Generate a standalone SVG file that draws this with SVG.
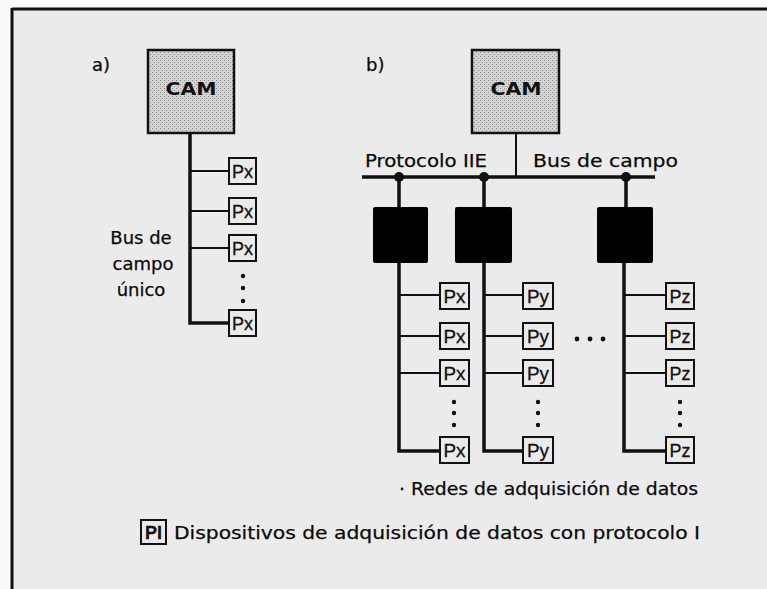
<svg xmlns="http://www.w3.org/2000/svg" width="767" height="589" viewBox="0 0 767 589">
  <defs>
    <pattern id="stipple" width="4" height="4" patternUnits="userSpaceOnUse">
      <rect width="4" height="4" fill="#d2d2d2"/>
      <rect x="0" y="0" width="1" height="1" fill="#8a8a8a"/>
      <rect x="2" y="2" width="1" height="1" fill="#9a9a9a"/>
    </pattern>
    <style>
      .lbl { font-family: "DejaVu Sans", "Liberation Sans", sans-serif; font-size: 18px; fill: #0a0a0a; stroke: #0a0a0a; stroke-width: 0.25; }
      .cam { font-family: "DejaVu Sans", "Liberation Sans", sans-serif; font-size: 17px; font-weight: bold; fill: #111; text-anchor: middle; }
      .dev { font-family: "Liberation Sans", Arial, sans-serif; font-size: 19px; fill: #111; stroke: #111; stroke-width: 0.3; text-anchor: middle; }
      .camBox { fill: url(#stipple); stroke: #111; stroke-width: 2.5; }
      .devBox { fill: #eaeaea; stroke: #111; stroke-width: 2; }
      .hub { fill: #000; }
      .wire { stroke: #111; stroke-width: 2; fill: none; }
      .trunk { stroke: #111; stroke-width: 3.5; fill: none; }
      .dot { fill: #111; }
    </style>
  </defs>

  <!-- page and frame -->
  <rect width="767" height="589" fill="#fafafa"/>
  <rect x="12" y="9" width="755" height="580" fill="#ebebeb"/>
  <line x1="12" y1="9" x2="767" y2="9" stroke="#111" stroke-width="3"/>
  <line x1="12" y1="8" x2="12" y2="589" stroke="#111" stroke-width="3"/>

  <!-- panel labels -->
  <text class="lbl" x="92" y="71">a)</text>
  <text class="lbl" x="366" y="71">b)</text>

  <!-- connectors -->
  <g id="connectors">
    <!-- a) single field bus -->
    <path class="trunk" d="M190,133 V323 H229" stroke-width="3"/>
    <path class="wire" d="M190,171 H229 M190,211 H229 M190,248 H229"/>
    <!-- b) main bus -->
    <line class="wire" x1="516" y1="133" x2="516" y2="177"/>
    <line class="trunk" x1="362" y1="177" x2="655" y2="177"/>
    <circle class="dot" cx="399" cy="177" r="5"/>
    <circle class="dot" cx="484" cy="177" r="5"/>
    <circle class="dot" cx="626" cy="177" r="5"/>
    <path class="trunk" d="M399,177 V207 M484,177 V207 M626,177 V207"/>
    <!-- b) acquisition networks -->
    <path class="trunk" d="M399,263 V451 H440"/>
    <path class="wire" d="M399,295 H440 M399,336 H440 M399,373 H440"/>
    <path class="trunk" d="M484,263 V451 H523"/>
    <path class="wire" d="M484,295 H523 M484,336 H523 M484,373 H523"/>
    <path class="trunk" d="M624,263 V451 H666"/>
    <path class="wire" d="M624,295 H666 M624,336 H666 M624,373 H666"/>
  </g>

  <!-- a) -->
  <g id="camA">
    <rect class="camBox" x="148" y="50" width="86" height="83"/>
    <text class="cam" x="191" y="95" textLength="51" lengthAdjust="spacingAndGlyphs">CAM</text>
  </g>
  <g id="devA1"><rect class="devBox" x="229" y="158" width="27" height="26"/><text class="dev" x="242.5" y="178" textLength="21" lengthAdjust="spacingAndGlyphs">Px</text></g>
  <g id="devA2"><rect class="devBox" x="229" y="198" width="27" height="26"/><text class="dev" x="242.5" y="218" textLength="21" lengthAdjust="spacingAndGlyphs">Px</text></g>
  <g id="devA3"><rect class="devBox" x="229" y="235" width="27" height="26"/><text class="dev" x="242.5" y="255" textLength="21" lengthAdjust="spacingAndGlyphs">Px</text></g>
  <g id="devA4"><rect class="devBox" x="229" y="310" width="27" height="26"/><text class="dev" x="242.5" y="330" textLength="21" lengthAdjust="spacingAndGlyphs">Px</text></g>
  <g id="ellipsisA">
    <circle class="dot" cx="243" cy="276" r="2.2"/>
    <circle class="dot" cx="243" cy="288" r="2.2"/>
    <circle class="dot" cx="243" cy="301" r="2.2"/>
  </g>
  <g id="busLabelA">
    <text class="lbl" x="141" y="244" text-anchor="middle">Bus de</text>
    <text class="lbl" x="143" y="270" text-anchor="middle">campo</text>
    <text class="lbl" x="141" y="296" text-anchor="middle">único</text>
  </g>

  <!-- b) -->
  <g id="camB">
    <rect class="camBox" x="472" y="50" width="87" height="83"/>
    <text class="cam" x="516" y="95" textLength="51" lengthAdjust="spacingAndGlyphs">CAM</text>
  </g>
  <g id="busLabelsB">
    <text class="lbl" x="365" y="167" textLength="122" lengthAdjust="spacingAndGlyphs">Protocolo IIE</text>
    <text class="lbl" x="533" y="167" textLength="145" lengthAdjust="spacingAndGlyphs">Bus de campo</text>
  </g>
  <g id="hub1"><rect class="hub" x="373" y="207" width="55" height="56" rx="2"/></g>
  <g id="hub2"><rect class="hub" x="455" y="207" width="57" height="56" rx="2"/></g>
  <g id="hub3"><rect class="hub" x="597" y="207" width="56" height="56" rx="2"/></g>

  <g id="devX1"><rect class="devBox" x="440" y="283" width="29" height="26"/><text class="dev" x="454.5" y="303" textLength="22" lengthAdjust="spacingAndGlyphs">Px</text></g>
  <g id="devX2"><rect class="devBox" x="440" y="323" width="29" height="26"/><text class="dev" x="454.5" y="343" textLength="22" lengthAdjust="spacingAndGlyphs">Px</text></g>
  <g id="devX3"><rect class="devBox" x="440" y="360" width="29" height="26"/><text class="dev" x="454.5" y="380" textLength="22" lengthAdjust="spacingAndGlyphs">Px</text></g>
  <g id="devX4"><rect class="devBox" x="440" y="437" width="29" height="26"/><text class="dev" x="454.5" y="457" textLength="22" lengthAdjust="spacingAndGlyphs">Px</text></g>

  <g id="devY1"><rect class="devBox" x="523" y="283" width="30" height="26"/><text class="dev" x="538" y="303" textLength="22" lengthAdjust="spacingAndGlyphs">Py</text></g>
  <g id="devY2"><rect class="devBox" x="523" y="323" width="30" height="26"/><text class="dev" x="538" y="343" textLength="22" lengthAdjust="spacingAndGlyphs">Py</text></g>
  <g id="devY3"><rect class="devBox" x="523" y="360" width="30" height="26"/><text class="dev" x="538" y="380" textLength="22" lengthAdjust="spacingAndGlyphs">Py</text></g>
  <g id="devY4"><rect class="devBox" x="523" y="437" width="30" height="26"/><text class="dev" x="538" y="457" textLength="22" lengthAdjust="spacingAndGlyphs">Py</text></g>

  <g id="devZ1"><rect class="devBox" x="666" y="283" width="28" height="26"/><text class="dev" x="680" y="303" textLength="21" lengthAdjust="spacingAndGlyphs">Pz</text></g>
  <g id="devZ2"><rect class="devBox" x="666" y="323" width="28" height="26"/><text class="dev" x="680" y="343" textLength="21" lengthAdjust="spacingAndGlyphs">Pz</text></g>
  <g id="devZ3"><rect class="devBox" x="666" y="360" width="28" height="26"/><text class="dev" x="680" y="380" textLength="21" lengthAdjust="spacingAndGlyphs">Pz</text></g>
  <g id="devZ4"><rect class="devBox" x="666" y="437" width="28" height="26"/><text class="dev" x="680" y="457" textLength="21" lengthAdjust="spacingAndGlyphs">Pz</text></g>

  <g id="ellipsesB">
    <circle class="dot" cx="454" cy="402" r="2.2"/>
    <circle class="dot" cx="454" cy="413" r="2.2"/>
    <circle class="dot" cx="454" cy="425" r="2.2"/>
    <circle class="dot" cx="538" cy="402" r="2.2"/>
    <circle class="dot" cx="538" cy="413" r="2.2"/>
    <circle class="dot" cx="538" cy="425" r="2.2"/>
    <circle class="dot" cx="680" cy="402" r="2.2"/>
    <circle class="dot" cx="680" cy="413" r="2.2"/>
    <circle class="dot" cx="680" cy="425" r="2.2"/>
    <circle class="dot" cx="577" cy="339" r="2.4"/>
    <circle class="dot" cx="590" cy="339" r="2.4"/>
    <circle class="dot" cx="603" cy="339" r="2.4"/>
  </g>

  <text class="lbl" x="399" y="495" textLength="299" lengthAdjust="spacingAndGlyphs">· Redes de adquisición de datos</text>

  <!-- legend -->
  <g id="legend">
    <rect class="devBox" x="141" y="520" width="25" height="24" stroke-width="2.5"/>
    <text class="dev" x="153.5" y="539" font-weight="bold" textLength="17" lengthAdjust="spacingAndGlyphs">PI</text>
    <text class="lbl" x="174" y="539" textLength="526" lengthAdjust="spacingAndGlyphs">Dispositivos de adquisición de datos con protocolo I</text>
  </g>
</svg>
